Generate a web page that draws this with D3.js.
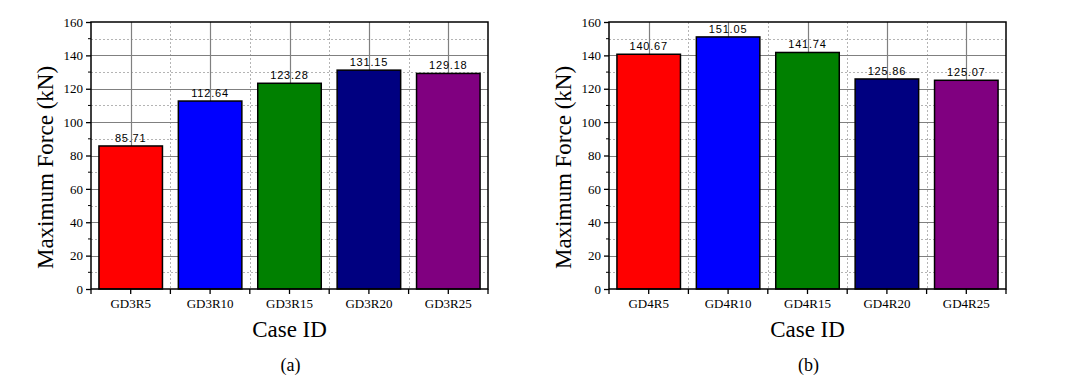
<!DOCTYPE html>
<html>
<head>
<meta charset="utf-8">
<script src="https://cdn.jsdelivr.net/npm/d3@7"></script>
<style>
  body { margin: 0; background: #fff; }
  svg { display: block; }
</style>
</head>
<body>
<div id="chart"></div>
<script>
// data
const casesA = ["GD3R5", "GD3R10", "GD3R15", "GD3R20", "GD3R25"];
const forceA = [85.71, 112.64, 123.28, 131.15, 129.18];
const casesB = ["GD4R5", "GD4R10", "GD4R15", "GD4R20", "GD4R25"];
const forceB = [140.67, 151.05, 141.74, 125.86, 125.07];
const barColors = ["#ff0000", "#0000ff", "#008000", "#000080", "#800080"];
const yTicks = [0, 20, 40, 60, 80, 100, 120, 140, 160];
const yMinor = [10, 30, 50, 70, 90, 110, 130, 150];

const W = 1065, H = 387;
const svg = d3.select("#chart").append("svg")
  .attr("width", W).attr("height", H);

const serif = "Times New Roman";

function drawPanel(left, cases, values, tag) {
  const width = 397, top = 22, height = 267;
  const g = svg.append("g").attr("transform", `translate(${left},${top})`);

  const x = d3.scaleBand().domain(cases).range([0, width])
    .paddingInner(0.2).paddingOuter(0.1);
  const y = d3.scaleLinear().domain([0, 160]).range([height, 0]);
  const step = x.step();

  // minor grid (dotted)
  g.selectAll(".hminor").data(yMinor).join("line")
    .attr("x1", 0).attr("x2", width)
    .attr("y1", d => Math.round(y(d)) + 0.5).attr("y2", d => Math.round(y(d)) + 0.5)
    .attr("stroke", "#b4b4b4").attr("stroke-dasharray", "2,2");
  const bounds = cases.slice(1).map(c => x(c) - step * x.paddingInner() / 2);
  g.selectAll(".vminor").data(bounds).join("line")
    .attr("x1", d => Math.round(d) + 0.5).attr("x2", d => Math.round(d) + 0.5)
    .attr("y1", 0).attr("y2", height)
    .attr("stroke", "#b4b4b4").attr("stroke-dasharray", "2,2");

  // major grid (solid)
  g.selectAll(".hmajor").data(yTicks.slice(1, -1)).join("line")
    .attr("x1", 0).attr("x2", width)
    .attr("y1", d => Math.round(y(d)) + 0.5).attr("y2", d => Math.round(y(d)) + 0.5)
    .attr("stroke", "#808080").attr("stroke-width", 1.2);
  g.selectAll(".vmajor").data(cases).join("line")
    .attr("x1", d => Math.round(x(d) + x.bandwidth() / 2) + 0.5)
    .attr("x2", d => Math.round(x(d) + x.bandwidth() / 2) + 0.5)
    .attr("y1", 0).attr("y2", height)
    .attr("stroke", "#808080").attr("stroke-width", 1.2);

  // bars
  g.selectAll(".bar").data(values).join("rect")
    .attr("x", (d, i) => x(cases[i]))
    .attr("y", d => y(d))
    .attr("width", x.bandwidth())
    .attr("height", d => height - y(d))
    .attr("fill", (d, i) => barColors[i])
    .attr("stroke", "#000").attr("stroke-width", 1.5);

  // value labels
  g.selectAll(".val").data(values).join("text")
    .attr("x", (d, i) => x(cases[i]) + x.bandwidth() / 2)
    .attr("y", d => y(d) - 4)
    .attr("text-anchor", "middle")
    .attr("font-family", "Arial")
    .attr("font-size", 11)
    .attr("letter-spacing", 0.8)
    .attr("fill", "#000")
    .text(d => d.toFixed(2));

  // frame
  g.append("rect").attr("x", 0).attr("y", 0)
    .attr("width", width).attr("height", height)
    .attr("fill", "none").attr("stroke", "#000").attr("stroke-width", 1.5);

  // y axis
  const yAxis = g.append("g")
    .call(d3.axisLeft(y).tickValues(yTicks).tickSize(5).tickPadding(3))
    .attr("font-family", serif).attr("font-size", 13);
  yAxis.select(".domain").remove();
  yAxis.selectAll("line").attr("stroke-width", 1.3);
  g.selectAll(".yminor").data(yMinor).join("line")
    .attr("x1", -3).attr("x2", 0)
    .attr("y1", d => y(d)).attr("y2", d => y(d))
    .attr("stroke", "#000");

  // x axis
  const xAxis = g.append("g").attr("transform", `translate(0,${height})`)
    .call(d3.axisBottom(x).tickSize(5).tickPadding(5))
    .attr("font-family", serif).attr("font-size", 13);
  xAxis.select(".domain").remove();
  xAxis.selectAll("line").attr("stroke-width", 1.3);
  const allBounds = [0, ...bounds, width];
  g.selectAll(".xminor").data(allBounds).join("line")
    .attr("x1", d => d).attr("x2", d => d)
    .attr("y1", height).attr("y2", height + 5)
    .attr("stroke", "#000").attr("stroke-width", 1.3);

  // axis titles
  g.append("text")
    .attr("transform", `translate(-38,145.5) rotate(-90)`)
    .attr("text-anchor", "middle")
    .attr("font-family", serif).attr("font-size", 23)
    .text("Maximum Force (kN)");
  g.append("text")
    .attr("x", width / 2).attr("y", height + 48)
    .attr("text-anchor", "middle")
    .attr("font-family", serif).attr("font-size", 23)
    .text("Case ID");
  g.append("text")
    .attr("x", width / 2 + 1).attr("y", height + 82)
    .attr("text-anchor", "middle")
    .attr("font-family", serif).attr("font-size", 18)
    .text(tag);
}

drawPanel(91, casesA, forceA, "(a)");
drawPanel(609, casesB, forceB, "(b)");
</script>
</body>
</html>
